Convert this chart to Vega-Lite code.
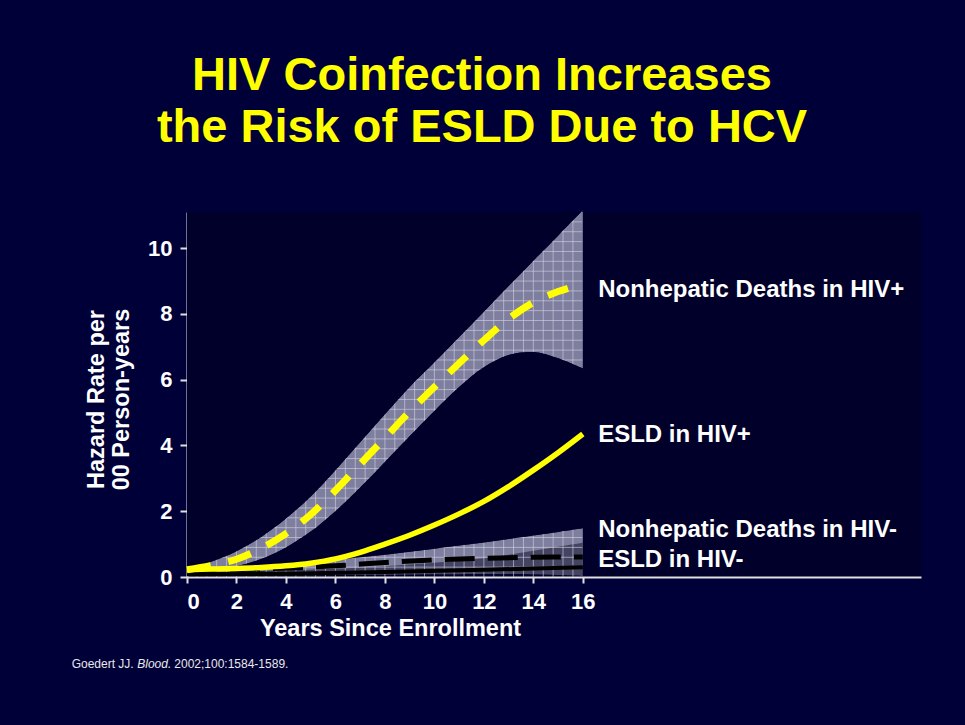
{
  "$schema": "https://vega.github.io/schema/vega-lite/v6.json",
  "autosize": {"type": "none"},
  "width": 734,
  "height": 365,
  "padding": {"left": 187, "top": 212, "right": 44, "bottom": 148},
  "background": "#000038",
  "title": {
    "text": ["HIV Coinfection Increases", "the Risk of ESLD Due to HCV"],
    "font": "Liberation Sans",
    "fontWeight": "bold",
    "fontSize": 47,
    "lineHeight": 52,
    "color": "#ffff00",
    "anchor": "middle",
    "frame": "group",
    "baseline": "bottom",
    "offset": 11,
    "dx": -72
  },
  "config": {
    "view": {"fill": "#00002a", "stroke": null},
    "axis": {
      "labelFont": "Liberation Sans",
      "labelFontWeight": "bold",
      "labelFontSize": 22,
      "labelColor": "#ffffff",
      "titleFont": "Liberation Sans",
      "titleFontWeight": "bold",
      "titleFontSize": 23.5,
      "titleColor": "#ffffff",
      "domainColor": "#e0e0e0",
      "domainWidth": 2,
      "tickColor": "#e0e0e0",
      "tickWidth": 2,
      "grid": false
    }
  },
  "datasets": {
    "bands": [
      {"band": "nhp", "x": 0, "lo": 0.16, "hi": 0.30},
      {"band": "nhp", "x": 1, "lo": 0.24, "hi": 0.47},
      {"band": "nhp", "x": 2, "lo": 0.33, "hi": 0.78},
      {"band": "nhp", "x": 3, "lo": 0.55, "hi": 1.22},
      {"band": "nhp", "x": 4, "lo": 0.9, "hi": 1.78},
      {"band": "nhp", "x": 5, "lo": 1.38, "hi": 2.45},
      {"band": "nhp", "x": 6, "lo": 2.0, "hi": 3.25},
      {"band": "nhp", "x": 7, "lo": 2.72, "hi": 4.1},
      {"band": "nhp", "x": 8, "lo": 3.5, "hi": 4.95},
      {"band": "nhp", "x": 9, "lo": 4.28, "hi": 5.78},
      {"band": "nhp", "x": 10, "lo": 5.05, "hi": 6.53},
      {"band": "nhp", "x": 11, "lo": 5.78, "hi": 7.3},
      {"band": "nhp", "x": 12, "lo": 6.38, "hi": 8.07},
      {"band": "nhp", "x": 13, "lo": 6.75, "hi": 8.85},
      {"band": "nhp", "x": 14, "lo": 6.84, "hi": 9.62},
      {"band": "nhp", "x": 15, "lo": 6.65, "hi": 10.38},
      {"band": "nhp", "x": 16, "lo": 6.34, "hi": 11.15},
      {"band": "nhn", "x": 0, "lo": 0.15, "hi": 0.27},
      {"band": "nhn", "x": 1, "lo": 0.16, "hi": 0.295},
      {"band": "nhn", "x": 2, "lo": 0.17, "hi": 0.32},
      {"band": "nhn", "x": 3, "lo": 0.185, "hi": 0.36},
      {"band": "nhn", "x": 4, "lo": 0.2, "hi": 0.4},
      {"band": "nhn", "x": 5, "lo": 0.215, "hi": 0.46},
      {"band": "nhn", "x": 6, "lo": 0.23, "hi": 0.52},
      {"band": "nhn", "x": 7, "lo": 0.245, "hi": 0.6},
      {"band": "nhn", "x": 8, "lo": 0.26, "hi": 0.68},
      {"band": "nhn", "x": 9, "lo": 0.28, "hi": 0.77},
      {"band": "nhn", "x": 10, "lo": 0.3, "hi": 0.86},
      {"band": "nhn", "x": 11, "lo": 0.31, "hi": 0.955},
      {"band": "nhn", "x": 12, "lo": 0.32, "hi": 1.05},
      {"band": "nhn", "x": 13, "lo": 0.325, "hi": 1.155},
      {"band": "nhn", "x": 14, "lo": 0.33, "hi": 1.26},
      {"band": "nhn", "x": 15, "lo": 0.33, "hi": 1.37},
      {"band": "nhn", "x": 16, "lo": 0.33, "hi": 1.48},
      {"band": "esn", "x": 0, "lo": 0.03, "hi": 0.12},
      {"band": "esn", "x": 2, "lo": 0.04, "hi": 0.15},
      {"band": "esn", "x": 4, "lo": 0.05, "hi": 0.19},
      {"band": "esn", "x": 6, "lo": 0.06, "hi": 0.25},
      {"band": "esn", "x": 8, "lo": 0.07, "hi": 0.33},
      {"band": "esn", "x": 10, "lo": 0.08, "hi": 0.43},
      {"band": "esn", "x": 12, "lo": 0.09, "hi": 0.57},
      {"band": "esn", "x": 13, "lo": 0.09, "hi": 0.68},
      {"band": "esn", "x": 14, "lo": 0.08, "hi": 0.8},
      {"band": "esn", "x": 15, "lo": 0.06, "hi": 0.92},
      {"band": "esn", "x": 16, "lo": 0.03, "hi": 1.04}
    ],
    "gap": [
      {"x": 0, "top": 0.27, "bottom": 0.27},
      {"x": 1, "top": 0.295, "bottom": 0.295},
      {"x": 2, "top": 0.33, "bottom": 0.32},
      {"x": 3, "top": 0.55, "bottom": 0.36},
      {"x": 4, "top": 0.9, "bottom": 0.4},
      {"x": 5, "top": 1.38, "bottom": 0.46},
      {"x": 6, "top": 2.0, "bottom": 0.52},
      {"x": 7, "top": 2.72, "bottom": 0.6},
      {"x": 8, "top": 3.5, "bottom": 0.68},
      {"x": 9, "top": 4.28, "bottom": 0.77},
      {"x": 10, "top": 5.05, "bottom": 0.86},
      {"x": 11, "top": 5.78, "bottom": 0.955},
      {"x": 12, "top": 6.38, "bottom": 1.05},
      {"x": 13, "top": 6.75, "bottom": 1.155},
      {"x": 14, "top": 6.84, "bottom": 1.26},
      {"x": 15, "top": 6.65, "bottom": 1.37},
      {"x": 16, "top": 6.34, "bottom": 1.48}
    ],
    "gridx": [
      {"g": 0.4}, {"g": 0.8}, {"g": 1.2}, {"g": 1.6}, {"g": 2.0}, {"g": 2.4}, {"g": 2.8}, {"g": 3.2}, {"g": 3.6}, {"g": 4.0},
      {"g": 4.4}, {"g": 4.8}, {"g": 5.2}, {"g": 5.6}, {"g": 6.0}, {"g": 6.4}, {"g": 6.8}, {"g": 7.2}, {"g": 7.6}, {"g": 8.0},
      {"g": 8.4}, {"g": 8.8}, {"g": 9.2}, {"g": 9.6}, {"g": 10.0}, {"g": 10.4}, {"g": 10.8}, {"g": 11.2}, {"g": 11.6}, {"g": 12.0},
      {"g": 12.4}, {"g": 12.8}, {"g": 13.2}, {"g": 13.6}, {"g": 14.0}, {"g": 14.4}, {"g": 14.8}, {"g": 15.2}, {"g": 15.6}
    ],
    "gridy": [
      {"g": 0.3, "a": 0, "b": 15.98}, {"g": 0.6, "a": 0, "b": 15.98}, {"g": 0.9, "a": 0, "b": 15.98}, {"g": 1.2, "a": 0, "b": 15.98},
      {"g": 1.5, "a": 0, "b": 15.98}, {"g": 1.8, "a": 0, "b": 15.98}, {"g": 2.1, "a": 0, "b": 15.98}, {"g": 2.4, "a": 0, "b": 15.98},
      {"g": 2.7, "a": 0, "b": 15.98}, {"g": 3.0, "a": 0, "b": 15.98}, {"g": 3.3, "a": 0, "b": 15.98}, {"g": 3.6, "a": 0, "b": 15.98},
      {"g": 3.9, "a": 0, "b": 15.98}, {"g": 4.2, "a": 0, "b": 15.98}, {"g": 4.5, "a": 0, "b": 15.98}, {"g": 4.8, "a": 0, "b": 15.98},
      {"g": 5.1, "a": 0, "b": 15.98}, {"g": 5.4, "a": 0, "b": 15.98}, {"g": 5.7, "a": 0, "b": 15.98}, {"g": 6.0, "a": 0, "b": 15.98},
      {"g": 6.3, "a": 0, "b": 15.98}, {"g": 6.6, "a": 0, "b": 15.98}, {"g": 6.9, "a": 0, "b": 15.98}, {"g": 7.2, "a": 0, "b": 15.98},
      {"g": 7.5, "a": 0, "b": 15.98}, {"g": 7.8, "a": 0, "b": 15.98}, {"g": 8.1, "a": 0, "b": 15.98}, {"g": 8.4, "a": 0, "b": 15.98},
      {"g": 8.7, "a": 0, "b": 15.98}, {"g": 9.0, "a": 0, "b": 15.98}, {"g": 9.3, "a": 0, "b": 15.98}, {"g": 9.6, "a": 0, "b": 15.98},
      {"g": 9.9, "a": 0, "b": 15.98}, {"g": 10.2, "a": 0, "b": 15.98}, {"g": 10.5, "a": 0, "b": 15.98}, {"g": 10.8, "a": 0, "b": 15.98}
    ],
    "lines": [
      {"series": "Nonhepatic HIV+", "x": 0, "y": 0.22},
      {"series": "Nonhepatic HIV+", "x": 1, "y": 0.35},
      {"series": "Nonhepatic HIV+", "x": 2, "y": 0.54},
      {"series": "Nonhepatic HIV+", "x": 3, "y": 0.87},
      {"series": "Nonhepatic HIV+", "x": 4, "y": 1.32},
      {"series": "Nonhepatic HIV+", "x": 5, "y": 1.9},
      {"series": "Nonhepatic HIV+", "x": 6, "y": 2.63},
      {"series": "Nonhepatic HIV+", "x": 7, "y": 3.43},
      {"series": "Nonhepatic HIV+", "x": 8, "y": 4.23},
      {"series": "Nonhepatic HIV+", "x": 9, "y": 5.03},
      {"series": "Nonhepatic HIV+", "x": 10, "y": 5.78},
      {"series": "Nonhepatic HIV+", "x": 11, "y": 6.5},
      {"series": "Nonhepatic HIV+", "x": 12, "y": 7.2},
      {"series": "Nonhepatic HIV+", "x": 13, "y": 7.85},
      {"series": "Nonhepatic HIV+", "x": 14, "y": 8.35},
      {"series": "Nonhepatic HIV+", "x": 15, "y": 8.68},
      {"series": "Nonhepatic HIV+", "x": 15.4, "y": 8.78},
      {"series": "ESLD HIV+", "x": 0, "y": 0.22},
      {"series": "ESLD HIV+", "x": 1, "y": 0.24},
      {"series": "ESLD HIV+", "x": 2, "y": 0.26},
      {"series": "ESLD HIV+", "x": 3, "y": 0.29},
      {"series": "ESLD HIV+", "x": 4, "y": 0.34},
      {"series": "ESLD HIV+", "x": 5, "y": 0.42},
      {"series": "ESLD HIV+", "x": 6, "y": 0.55},
      {"series": "ESLD HIV+", "x": 7, "y": 0.75},
      {"series": "ESLD HIV+", "x": 8, "y": 1.0},
      {"series": "ESLD HIV+", "x": 9, "y": 1.27},
      {"series": "ESLD HIV+", "x": 10, "y": 1.58},
      {"series": "ESLD HIV+", "x": 11, "y": 1.92},
      {"series": "ESLD HIV+", "x": 12, "y": 2.3},
      {"series": "ESLD HIV+", "x": 13, "y": 2.75},
      {"series": "ESLD HIV+", "x": 14, "y": 3.25},
      {"series": "ESLD HIV+", "x": 15, "y": 3.78},
      {"series": "ESLD HIV+", "x": 16, "y": 4.35},
      {"series": "Nonhepatic HIV-", "x": 0, "y": 0.2},
      {"series": "Nonhepatic HIV-", "x": 2, "y": 0.23},
      {"series": "Nonhepatic HIV-", "x": 4, "y": 0.27},
      {"series": "Nonhepatic HIV-", "x": 6, "y": 0.34},
      {"series": "Nonhepatic HIV-", "x": 8, "y": 0.44},
      {"series": "Nonhepatic HIV-", "x": 10, "y": 0.52},
      {"series": "Nonhepatic HIV-", "x": 12, "y": 0.57},
      {"series": "Nonhepatic HIV-", "x": 14, "y": 0.6},
      {"series": "Nonhepatic HIV-", "x": 16, "y": 0.61},
      {"series": "ESLD HIV-", "x": 0, "y": 0.08},
      {"series": "ESLD HIV-", "x": 4, "y": 0.1},
      {"series": "ESLD HIV-", "x": 8, "y": 0.15},
      {"series": "ESLD HIV-", "x": 12, "y": 0.22},
      {"series": "ESLD HIV-", "x": 16, "y": 0.3}
    ],
    "labels": [
      {"label": "Nonhepatic Deaths in HIV+", "x": 16.62, "y": 8.51},
      {"label": "ESLD in HIV+", "x": 16.62, "y": 4.11},
      {"label": "Nonhepatic Deaths in HIV-", "x": 16.62, "y": 1.22},
      {"label": "ESLD in HIV-", "x": 16.62, "y": 0.31}
    ],
    "cite": [
      {"part": "Goedert JJ.", "style": "normal", "x": -4.662, "y": -2.766},
      {"part": "Blood.", "style": "italic", "x": -2.01, "y": -2.766},
      {"part": "2002;100:1584-1589.", "style": "normal", "x": -0.514, "y": -2.766}
    ]
  },
  "encoding": {
    "x": {
      "field": "x",
      "type": "quantitative",
      "scale": {"domain": [0, 29.67], "nice": false, "zero": false},
      "axis": {
        "values": [0, 2, 4, 6, 8, 10, 12, 14, 16],
        "title": "Years Since Enrollment",
        "tickSize": 6,
        "labelPadding": 8,
        "titleX": 203,
        "titleY": 58,
        "titleAlign": "center",
        "titleAnchor": null,
        "titleBaseline": "alphabetic"
      }
    }
  },
  "layer": [
    {
      "data": {"name": "bands"},
      "transform": [{"filter": "datum.band === 'nhp'"}],
      "mark": {"type": "area", "interpolate": "catmull-rom", "color": "#7e7e9e", "opacity": 1},
      "encoding": {
        "y": {
          "field": "hi",
          "type": "quantitative",
          "scale": {"domain": [0, 11.1], "nice": false},
          "axis": {
            "values": [0, 2, 4, 6, 8, 10],
            "title": ["Hazard Rate per", "00 Person-years"],
            "tickSize": 7,
            "labelPadding": 8,
            "titleAngle": -90,
            "titleX": -84,
            "titleY": 187,
            "titleAlign": "center",
            "titleBaseline": "alphabetic",
            "titleLineHeight": 25.5
          }
        },
        "y2": {"field": "lo"}
      }
    },
    {
      "data": {"name": "bands"},
      "transform": [{"filter": "datum.band === 'nhn'"}],
      "mark": {"type": "area", "interpolate": "catmull-rom", "color": "#7e7e9e", "opacity": 1},
      "encoding": {"y": {"field": "hi", "type": "quantitative"}, "y2": {"field": "lo"}}
    },
    {
      "data": {"name": "bands"},
      "transform": [{"filter": "datum.band === 'esn'"}],
      "mark": {"type": "area", "interpolate": "catmull-rom", "color": "#444462", "opacity": 1},
      "encoding": {"y": {"field": "hi", "type": "quantitative"}, "y2": {"field": "lo"}}
    },
    {
      "data": {"name": "gridx"},
      "mark": {"type": "rule", "color": "#d4d4e4", "strokeWidth": 1, "opacity": 0.6},
      "encoding": {"x": {"field": "g", "type": "quantitative"}, "y": {"datum": 0, "type": "quantitative"}, "y2": {"datum": 11.1}}
    },
    {
      "data": {"name": "gridy"},
      "mark": {"type": "rule", "color": "#d4d4e4", "strokeWidth": 1, "opacity": 0.6},
      "encoding": {"y": {"field": "g", "type": "quantitative"}, "x": {"field": "a", "type": "quantitative"}, "x2": {"field": "b"}}
    },
    {
      "data": {"name": "bands"},
      "transform": [{"filter": "datum.band === 'nhp'"}],
      "mark": {"type": "area", "interpolate": "catmull-rom", "color": "#00002a", "opacity": 1},
      "encoding": {"y": {"field": "hi", "type": "quantitative"}, "y2": {"datum": 11.1}}
    },
    {
      "data": {"name": "gap"},
      "mark": {"type": "area", "interpolate": "catmull-rom", "color": "#00002a", "opacity": 1},
      "encoding": {"y": {"field": "top", "type": "quantitative"}, "y2": {"field": "bottom"}}
    },
    {
      "data": {"name": "lines"},
      "transform": [{"filter": "datum.series === 'ESLD HIV-'"}],
      "mark": {"type": "line", "interpolate": "catmull-rom", "color": "#000000", "strokeWidth": 4},
      "encoding": {"y": {"field": "y", "type": "quantitative"}}
    },
    {
      "data": {"name": "lines"},
      "transform": [{"filter": "datum.series === 'Nonhepatic HIV-'"}],
      "mark": {"type": "line", "interpolate": "catmull-rom", "color": "#000000", "strokeWidth": 5, "strokeDash": [30, 13]},
      "encoding": {"y": {"field": "y", "type": "quantitative"}}
    },
    {
      "data": {"name": "lines"},
      "transform": [{"filter": "datum.series === 'ESLD HIV+'"}],
      "mark": {"type": "line", "interpolate": "catmull-rom", "color": "#ffff00", "strokeWidth": 5.5},
      "encoding": {"y": {"field": "y", "type": "quantitative"}}
    },
    {
      "data": {"name": "lines"},
      "transform": [{"filter": "datum.series === 'Nonhepatic HIV+'"}],
      "mark": {"type": "line", "interpolate": "catmull-rom", "color": "#ffff00", "strokeWidth": 7, "strokeDash": [24, 18]},
      "encoding": {"y": {"field": "y", "type": "quantitative"}}
    },
    {
      "data": {"name": "labels"},
      "mark": {"type": "text", "align": "left", "baseline": "alphabetic", "font": "Liberation Sans", "fontWeight": "bold", "fontSize": 24, "color": "#ffffff", "clip": false},
      "encoding": {"y": {"field": "y", "type": "quantitative"}, "text": {"field": "label"}}
    },
    {
      "data": {"name": "cite"},
      "transform": [{"filter": "datum.style === 'normal'"}],
      "mark": {"type": "text", "align": "left", "baseline": "alphabetic", "font": "Liberation Sans", "fontSize": 12, "color": "#e8e8e8", "clip": false},
      "encoding": {"y": {"field": "y", "type": "quantitative"}, "text": {"field": "part"}}
    },
    {
      "data": {"name": "cite"},
      "transform": [{"filter": "datum.style === 'italic'"}],
      "mark": {"type": "text", "align": "left", "baseline": "alphabetic", "font": "Liberation Sans", "fontStyle": "italic", "fontSize": 12, "color": "#e8e8e8", "clip": false},
      "encoding": {"y": {"field": "y", "type": "quantitative"}, "text": {"field": "part"}}
    }
  ]
}
